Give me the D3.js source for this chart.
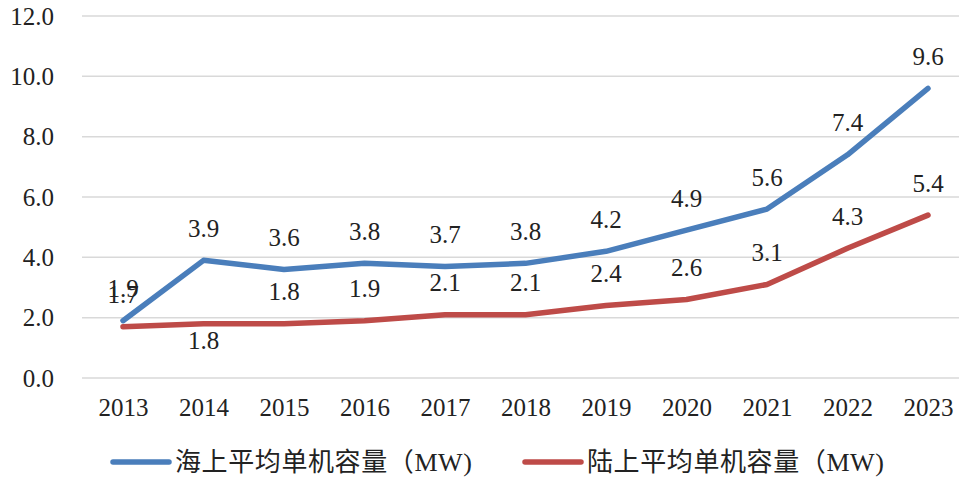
<!DOCTYPE html>
<html>
<head>
<meta charset="utf-8">
<script src="https://cdn.jsdelivr.net/npm/d3@7"></script>
<style>
  body { margin: 0; background: #fff; }
  svg text { font-family: "Liberation Serif", "Noto Sans CJK SC", serif; fill: #222; }
</style>
</head>
<body>
<svg id="chart" width="959" height="479"></svg>
<script>
// chart data
const years = ['2013', '2014', '2015', '2016', '2017', '2018', '2019', '2020', '2021', '2022', '2023'];
const offshore = [1.9, 3.9, 3.6, 3.8, 3.7, 3.8, 4.2, 4.9, 5.6, 7.4, 9.6];
const onshore = [1.7, 1.8, 1.8, 1.9, 2.1, 2.1, 2.4, 2.6, 3.1, 4.3, 5.4];
const yTicks = [0, 2, 4, 6, 8, 10, 12];
const seriesNames = ['海上平均单机容量（MW)', '陆上平均单机容量（MW)'];

const series = [
  { name: seriesNames[0], values: offshore, color: '#4a7ebb', below: new Set() },
  { name: seriesNames[1], values: onshore, color: '#be4b48', below: new Set(['2014']) },
];

const svg = d3.select('#chart');
const FONT = 25;

const x = d3.scalePoint().domain(years).range([123, 928]);
const y = d3.scaleLinear().domain([0, 12]).range([378, 16]);

// gridlines
svg.append('g')
  .selectAll('line')
  .data(yTicks)
  .join('line')
  .attr('x1', 82)
  .attr('x2', 959)
  .attr('y1', (d) => y(d))
  .attr('y2', (d) => y(d))
  .attr('stroke', '#d9d9d9')
  .attr('stroke-width', 1.5);

// y axis labels
const yAxis = svg.append('g')
  .attr('transform', 'translate(54,0)')
  .call(d3.axisLeft(y).tickValues(yTicks).tickFormat(d3.format('.1f')).tickSize(0).tickPadding(0));
yAxis.select('.domain').remove();
yAxis.selectAll('text').attr('font-size', FONT).attr('font-family', null);

// x axis labels
const xAxis = svg.append('g')
  .attr('transform', 'translate(0,398)')
  .call(d3.axisBottom(x).tickSize(0).tickPadding(0));
xAxis.select('.domain').remove();
xAxis.selectAll('text').attr('font-size', FONT).attr('font-family', null);

const line = d3.line()
  .x((d, i) => x(years[i]))
  .y((d) => y(d));

series.forEach((s) => {
  svg.append('path')
    .datum(s.values)
    .attr('d', line)
    .attr('fill', 'none')
    .attr('stroke', s.color)
    .attr('stroke-width', 5.5)
    .attr('stroke-linejoin', 'round')
    .attr('stroke-linecap', 'round');
});

// value labels (2013 pair overlaps in the original too)
series.forEach((s) => {
  svg.append('g')
    .selectAll('text')
    .data(s.values)
    .join('text')
    .attr('x', (d, i) => x(years[i]))
    .attr('y', (d, i) => y(d) + (s.below.has(years[i]) ? 17 : -32))
    .attr('text-anchor', 'middle')
    .attr('dominant-baseline', 'central')
    .attr('font-size', FONT)
    .text((d) => d3.format('.1f')(d));
});

// legend
const legendX = [113, 525];
const legend = svg.append('g')
  .selectAll('g')
  .data(series)
  .join('g')
  .attr('transform', (d, i) => `translate(${legendX[i]},462)`);
legend.append('line')
  .attr('x1', 0)
  .attr('x2', 56)
  .attr('stroke', (d) => d.color)
  .attr('stroke-width', 5.5)
  .attr('stroke-linecap', 'round');
legend.append('text')
  .attr('x', 62)
  .attr('dominant-baseline', 'central')
  .attr('font-size', 26)
  .attr('letter-spacing', 0.6)
  .text((d) => d.name);
</script>
</body>
</html>
